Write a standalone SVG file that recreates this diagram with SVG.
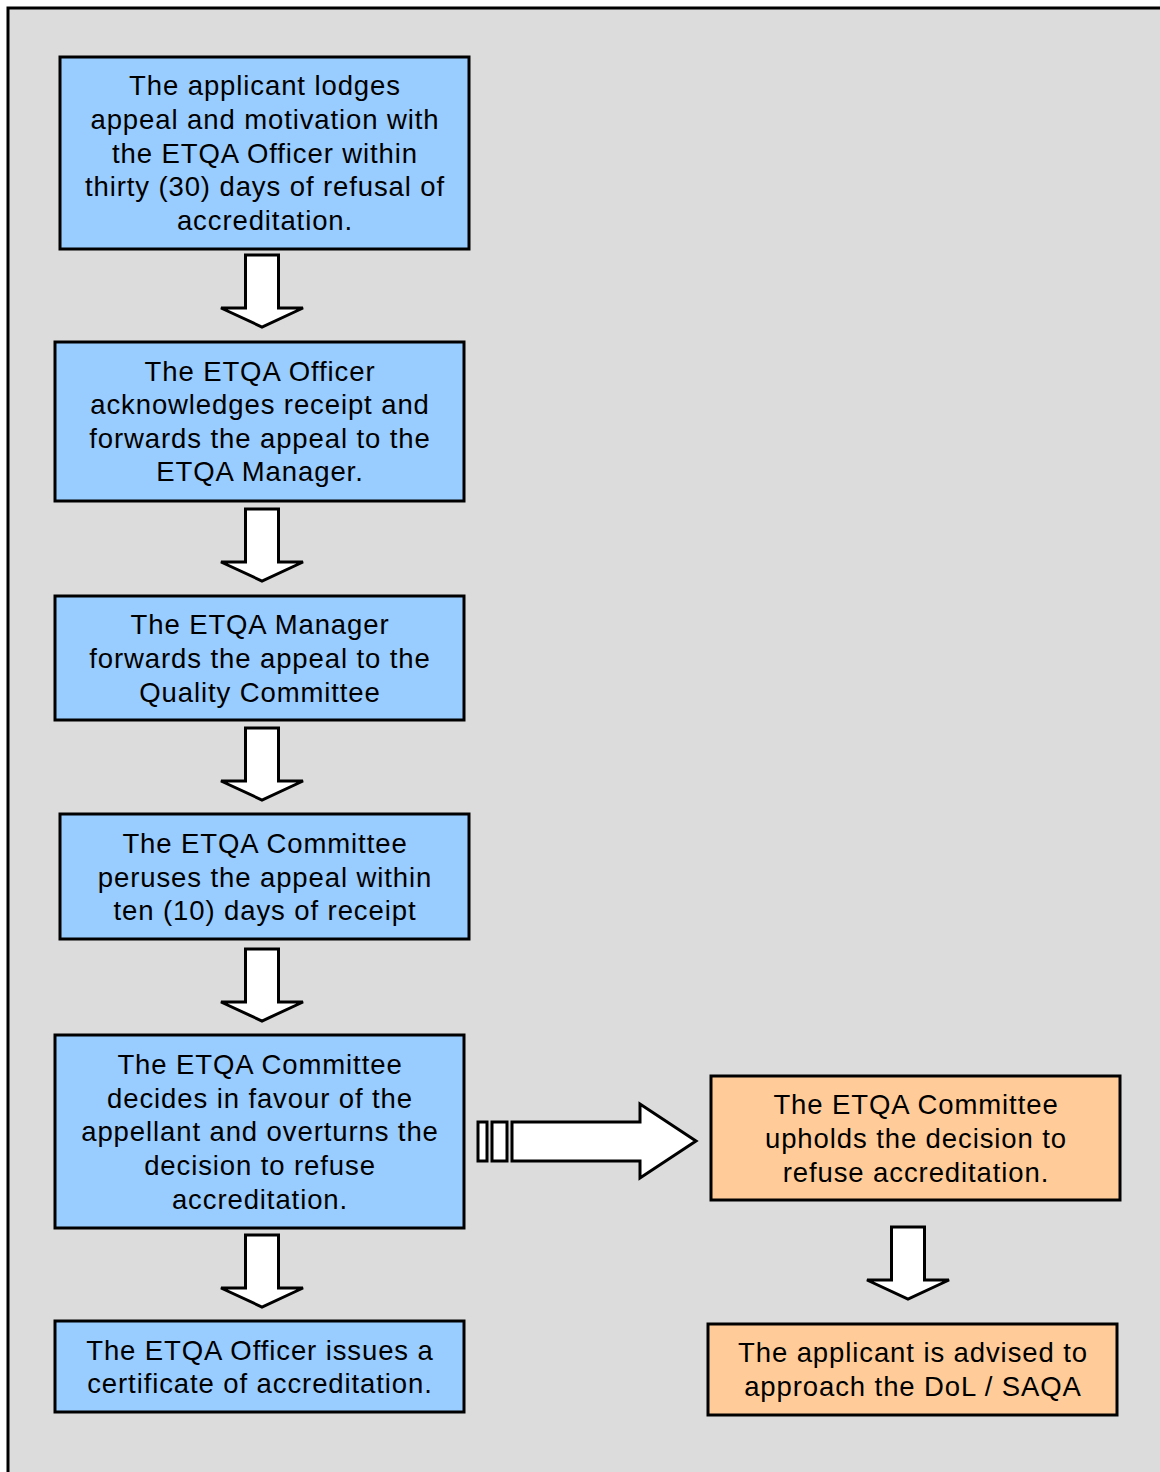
<svg xmlns="http://www.w3.org/2000/svg" width="1160" height="1472" viewBox="0 0 1160 1472">
<style>
.bg{fill:#dcdcdc;stroke:#000;stroke-width:3}
.b{fill:#99ccff;stroke:#000;stroke-width:3}
.o{fill:#ffcc99;stroke:#000;stroke-width:3}
.t{font-family:"Liberation Sans",Arial,sans-serif;font-size:27.5px;letter-spacing:0.9px;fill:#000;text-anchor:middle}
.a{fill:#fff;stroke:#000;stroke-width:3;stroke-linejoin:miter}
</style>
<defs>
<path id="down" d="M-16.5,0 H16.5 V53 H41 L0,72 L-41,53 H-16.5 Z"/>
</defs>
<rect x="0" y="0" width="1160" height="1472" fill="#fff"/>
<rect class="bg" x="8" y="8" width="1170" height="1480"/>
<g id="n1"><rect class="b" x="60" y="57" width="409" height="192"/>
<text class="t" x="265" y="95">The applicant lodges</text>
<text class="t" x="265" y="129">appeal and motivation with</text>
<text class="t" x="265" y="163">the ETQA Officer within</text>
<text class="t" x="265" y="196">thirty (30) days of refusal of</text>
<text class="t" x="265" y="230">accreditation.</text></g>
<g id="n2"><rect class="b" x="55" y="342" width="409" height="159"/>
<text class="t" x="260" y="381">The ETQA Officer</text>
<text class="t" x="260" y="414">acknowledges receipt and</text>
<text class="t" x="260" y="448">forwards the appeal to the</text>
<text class="t" x="260" y="481">ETQA Manager.</text></g>
<g id="n3"><rect class="b" x="55" y="596" width="409" height="124"/>
<text class="t" x="260" y="634">The ETQA Manager</text>
<text class="t" x="260" y="668">forwards the appeal to the</text>
<text class="t" x="260" y="702">Quality Committee</text></g>
<g id="n4"><rect class="b" x="60" y="814" width="409" height="125"/>
<text class="t" x="265" y="853">The ETQA Committee</text>
<text class="t" x="265" y="887">peruses the appeal within</text>
<text class="t" x="265" y="920">ten (10) days of receipt</text></g>
<g id="n5"><rect class="b" x="55" y="1035" width="409" height="193"/>
<text class="t" x="260" y="1074">The ETQA Committee</text>
<text class="t" x="260" y="1108">decides in favour of the</text>
<text class="t" x="260" y="1141">appellant and overturns the</text>
<text class="t" x="260" y="1175">decision to refuse</text>
<text class="t" x="260" y="1209">accreditation.</text></g>
<g id="n6"><rect class="b" x="55" y="1321" width="409" height="91"/>
<text class="t" x="260" y="1360">The ETQA Officer issues a</text>
<text class="t" x="260" y="1393">certificate of accreditation.</text></g>
<g id="n7"><rect class="o" x="711" y="1076" width="409" height="124"/>
<text class="t" x="916" y="1114">The ETQA Committee</text>
<text class="t" x="916" y="1148">upholds the decision to</text>
<text class="t" x="916" y="1182">refuse accreditation.</text></g>
<g id="n8"><rect class="o" x="708" y="1324" width="409" height="91"/>
<text class="t" x="913" y="1362">The applicant is advised to</text>
<text class="t" x="913" y="1396">approach the DoL / SAQA</text></g>
<g id="connectors">
<use href="#down" class="a" x="262" y="255"/>
<use href="#down" class="a" x="262" y="509"/>
<use href="#down" class="a" x="262" y="728"/>
<use href="#down" class="a" x="262" y="949"/>
<use href="#down" class="a" x="262" y="1235"/>
<use href="#down" class="a" x="908" y="1227"/>
<rect class="a" x="478" y="1122" width="9" height="39"/>
<rect class="a" x="492" y="1122" width="15" height="39"/>
<path class="a" d="M512,1122 H640 V1104 L696,1141 L640,1178 V1161 H512 Z"/>
</g>
</svg>
